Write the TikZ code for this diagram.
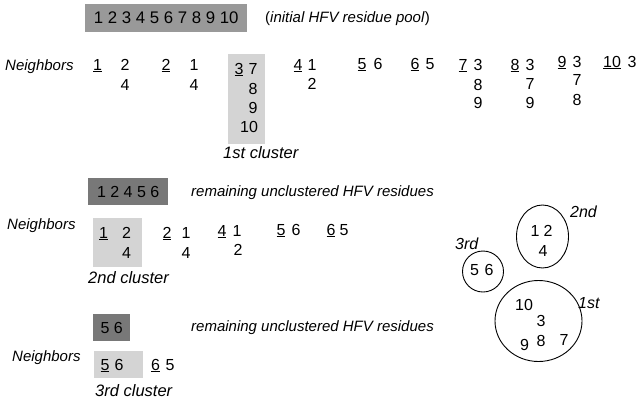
\documentclass[tikz,border=0pt]{standalone}
\usepackage{fontspec}
\setmainfont{Liberation Sans}
\usetikzlibrary{shapes.geometric, positioning}

\definecolor{poolgray}{gray}{0.6}
\definecolor{restgray}{gray}{0.47}
\definecolor{clustgray}{gray}{0.83}

\begin{document}
\begin{tikzpicture}[x=1pt, y=-1pt,
    every node/.style={inner sep=0pt, font=\fontsize{16}{19}\selectfont},
    num/.style={anchor=base},
    note/.style={anchor=base west, font=\fontsize{15}{18}\selectfont\itshape},
    tag/.style={anchor=base west, font=\fontsize{16.5}{19}\selectfont\itshape},
    pool/.style={rectangle, fill=poolgray, anchor=north west},
    rest/.style={rectangle, fill=restgray, anchor=north west},
    clust/.style={rectangle, fill=clustgray, anchor=north west},
    ring/.style={ellipse, draw, line width=0.9pt}
]
    \useasboundingbox (0,0) rectangle (640,402);

    % initial pool
    \node[pool, minimum width=162pt, minimum height=28pt, font=\fontsize{16.8}{19}\selectfont] (pool) at (85,4) {1 2 3 4 5 6 7 8 9 10};
    \node[anchor=base west, font=\fontsize{15}{18}\selectfont] (poolnote) at (265,22) {(\textit{initial HFV residue pool})};

    % neighbors, first pass
    \node[note] (nb1) at (5,70) {Neighbors};
    \node[clust, minimum width=37pt, minimum height=90pt] (c1) at (228,54) {};
    \node[tag] (c1note) at (223,158) {1st cluster};

    \node[num] (r1) at (97.5,70) {\underline{1}};
    \node[num] (r1a) at (125,70) {2};
    \node[num] (r1b) at (125,90) {4};
    \node[num] (r2) at (166,70) {\underline{2}};
    \node[num] (r2a) at (194,70) {1};
    \node[num] (r2b) at (194,90) {4};
    \node[num] (r3) at (239,74) {\underline{3}};
    \node[num] (r3a) at (253,74) {7};
    \node[num] (r3b) at (253,94) {8};
    \node[num] (r3c) at (253,113) {9};
    \node[num] (r3d) at (249,132) {10};
    \node[num] (r4) at (298,70) {\underline{4}};
    \node[num] (r4a) at (312,70) {1};
    \node[num] (r4b) at (312,89) {2};
    \node[num] (r5) at (362,69) {\underline{5}};
    \node[num] (r5a) at (378,69) {6};
    \node[num] (r6) at (415,69) {\underline{6}};
    \node[num] (r6a) at (430,69) {5};
    \node[num] (r7) at (463,70) {\underline{7}};
    \node[num] (r7a) at (478,70) {3};
    \node[num] (r7b) at (478,90) {8};
    \node[num] (r7c) at (478,108) {9};
    \node[num] (r8) at (515,70) {\underline{8}};
    \node[num] (r8a) at (530,70) {3};
    \node[num] (r8b) at (530,89) {7};
    \node[num] (r8c) at (530,108) {9};
    \node[num] (r9) at (562,67) {\underline{9}};
    \node[num] (r9a) at (577,67) {3};
    \node[num] (r9b) at (577,85) {7};
    \node[num] (r9c) at (577,105) {8};
    \node[num] (r10) at (612,67) {\underline{10}};
    \node[num] (r10a) at (632,67) {3};

    % second pass
    \node[rest, minimum width=80pt, minimum height=27pt] (rest2) at (88,178) {1 2 4 5 6};
    \node[note] (rest2note) at (191,196.5) {remaining unclustered HFV residues};
    \node[note] (nb2) at (7,229) {Neighbors};
    \node[clust, minimum width=49pt, minimum height=49pt] (c2) at (93,218) {};
    \node[tag] (c2note) at (88,283) {2nd cluster};

    \node[num] (s1) at (103.5,238) {\underline{1}};
    \node[num] (s1a) at (126.5,238) {2};
    \node[num] (s1b) at (126.5,258) {4};
    \node[num] (s2) at (167,238) {\underline{2}};
    \node[num] (s2a) at (186,238) {1};
    \node[num] (s2b) at (186,258) {4};
    \node[num] (s4) at (222,236) {\underline{4}};
    \node[num] (s4a) at (237,236) {1};
    \node[num] (s4b) at (238,255) {2};
    \node[num] (s5) at (281,235) {\underline{5}};
    \node[num] (s5a) at (296,235) {6};
    \node[num] (s6) at (331,235) {\underline{6}};
    \node[num] (s6a) at (344,235) {5};

    % third pass
    \node[rest, minimum width=37pt, minimum height=27pt] (rest3) at (93,314) {5 6};
    \node[note] (rest3note) at (191,331) {remaining unclustered HFV residues};
    \node[note] (nb3) at (12,361) {Neighbors};
    \node[clust, minimum width=49pt, minimum height=27pt] (c3) at (94,351) {};
    \node[tag] (c3note) at (95,396) {3rd cluster};

    \node[num] (t5) at (105,370) {\underline{5}};
    \node[num] (t5a) at (119,370) {6};
    \node[num] (t6) at (155.5,370) {\underline{6}};
    \node[num] (t6a) at (170,370) {5};

    % resulting clusters
    \node[ring, minimum width=52pt, minimum height=63pt] (ring2) at (542.5,236.5) {};
    \node[num] (g2a) at (535,236.5) {1};
    \node[num] (g2b) at (548,236.5) {2};
    \node[num] (g2c) at (543,256) {4};
    \node[tag, font=\fontsize{16}{19}\selectfont\itshape] (ring2note) at (570,217) {2nd};

    \node[ring, minimum width=41pt, minimum height=41pt] (ring3) at (483,271.5) {};
    \node[num] (g3a) at (474.5,275) {5};
    \node[num] (g3b) at (489,275) {6};
    \node[tag, font=\fontsize{16}{19}\selectfont\itshape] (ring3note) at (455,249) {3rd};

    \node[ring, minimum width=87pt, minimum height=81pt] (ring1) at (538.5,321) {};
    \node[num] (g1a) at (524,310.5) {10};
    \node[num] (g1b) at (541,326.5) {3};
    \node[num] (g1c) at (524.5,350.5) {9};
    \node[num] (g1d) at (541,346) {8};
    \node[num] (g1e) at (564,345) {7};
    \node[tag, font=\fontsize{16}{19}\selectfont\itshape] (ring1note) at (578,308) {1st};
\end{tikzpicture}
\end{document}
